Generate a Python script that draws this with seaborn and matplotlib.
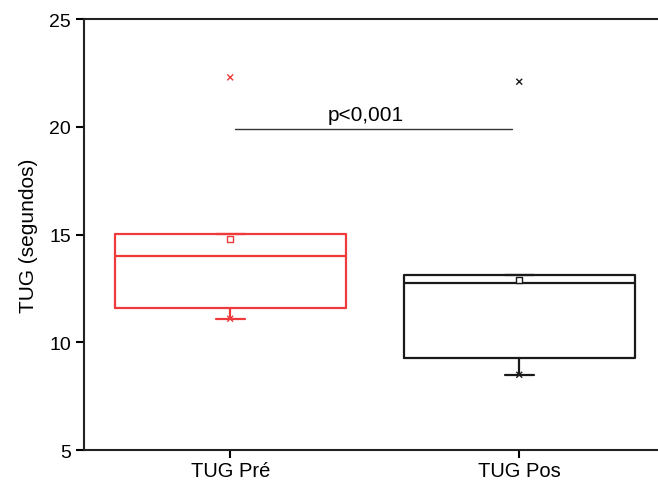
import matplotlib
matplotlib.use("Agg")
import matplotlib.pyplot as plt
import seaborn as sns
import pandas as pd

# valores
grupos = ['TUG Pré', 'TUG Pos']
q1 = [11.6, 9.3]
mediana = [14.0, 12.75]
q3 = [15.05, 13.15]
bigote_inf = [11.1, 8.5]
media = [14.8, 12.9]
minimo = [11.1, 8.5]
maximo = [22.3, 22.1]
colores = ['#EE3A3A', '#1A1A1A']

sns.set_style("ticks")
plt.rcParams['font.family'] = ['Liberation Sans', 'DejaVu Sans']
plt.rcParams['text.color'] = 'black'
plt.rcParams['axes.labelcolor'] = 'black'
plt.rcParams['xtick.color'] = 'black'
plt.rcParams['ytick.color'] = 'black'

fig = plt.figure(figsize=(6.58, 4.81), dpi=100)
ax = fig.add_axes([0.128, 0.062, 0.872, 0.896])

posiciones = [1, 2]
stats = []
for i, g in enumerate(grupos):
    stats.append({'label': g, 'q1': q1[i], 'med': mediana[i], 'q3': q3[i],
                  'whislo': bigote_inf[i], 'whishi': q3[i], 'fliers': []})

for i in range(len(grupos)):
    c = colores[i]
    ax.bxp([stats[i]], positions=[posiciones[i]], widths=0.8, capwidths=0.1,
           showfliers=False, manage_ticks=False,
           boxprops=dict(color=c, linewidth=1.6),
           medianprops=dict(color=c, linewidth=1.6),
           whiskerprops=dict(color=c, linewidth=1.6),
           capprops=dict(color=c, linewidth=1.6))

# medias (cuadrado vacio)
for i in range(len(grupos)):
    ax.scatter(posiciones[i], media[i], marker='s', s=22, facecolors='white',
               edgecolors=colores[i], linewidths=1.0, zorder=6)

# minimo y maximo (x)
df_ext = pd.DataFrame({'x': posiciones * 2, 'y': minimo + maximo, 'g': grupos * 2})
sns.scatterplot(data=df_ext, x='x', y='y', hue='g', palette=colores,
                marker='x', s=18, linewidth=1.0, legend=False, ax=ax, zorder=5)

# linea de significancia
ax.plot([1.017, 1.976], [19.9, 19.9], color='#333333', linewidth=1.0)
ax.text(1.47, 20.15, 'p<0,001', ha='center', va='bottom', fontsize=15)

ax.set_xlim(0.495, 2.48)
ax.set_ylim(5, 25)
ax.set_yticks([5, 10, 15, 20, 25])
ax.set_xticks(posiciones)
ax.set_xticklabels(grupos)
ax.set_xlabel('')
ax.set_ylabel('TUG (segundos)', fontsize=15, labelpad=8)
ax.tick_params(axis='both', labelsize=14, length=6, width=1.5)
ax.tick_params(axis='x', labelsize=14.5, pad=2)

for lado in ['left', 'bottom', 'top']:
    ax.spines[lado].set_linewidth(1.5)
    ax.spines[lado].set_color('#222222')
ax.spines['right'].set_visible(False)

fig.savefig('out.png', dpi=100)
